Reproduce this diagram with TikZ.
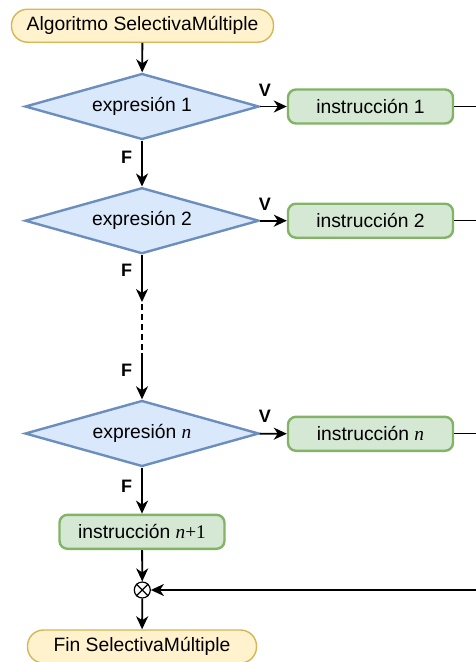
\documentclass[tikz,border=0pt]{standalone}
\usepackage{fontspec}
\setmainfont{Liberation Sans}
\newfontfamily\tms{Liberation Serif}
\usetikzlibrary{shapes.geometric,arrows.meta}
\definecolor{termfill}{HTML}{FFF2CC}
\definecolor{termdraw}{HTML}{D6B656}
\definecolor{decfill}{HTML}{DAE8FC}
\definecolor{decdraw}{HTML}{6C8EBF}
\definecolor{procfill}{HTML}{D5E8D4}
\definecolor{procdraw}{HTML}{82B366}
\begin{document}
\begin{tikzpicture}[x=1pt,y=-1pt,
  font=\fontsize{19.3}{23}\selectfont,
  term/.style={draw=termdraw, fill=termfill, line width=1.4pt, rounded corners=16pt, minimum height=33pt, inner sep=0pt},
  decision/.style={diamond, aspect=3.545, draw=decdraw, fill=decfill, line width=2.4pt, minimum width=234pt, minimum height=66pt, inner sep=0pt},
  proc/.style={draw=procdraw, fill=procfill, line width=2.4pt, rounded corners=8pt, minimum width=165pt, minimum height=34pt, inner sep=0pt},
  flow/.style={line width=1.8pt, -{Stealth[length=13pt,width=12pt,inset=4pt]}},
  stub/.style={line width=1.1pt},
  lbl/.style={font=\bfseries\fontsize{18}{20}\selectfont, inner sep=0pt}]
\fill[white] (0,0) rectangle (476,662);
\useasboundingbox (0,0) rectangle (476,662);

\node[term, minimum width=262pt] (start) at (142.5,25.7) {Algoritmo SelectivaMúltiple};

\node[decision] (d1) at (142,106.5) {expresión 1};
\node[proc] (i1) at (370.5,106.5) {instrucción 1};
\node[decision] (d2) at (142,220.7) {expresión 2};
\node[proc] (i2) at (370.5,220.7) {instrucción 2};
\node[decision] (dn) at (142,433.5) {expresión {\tms\itshape n}};
\node[proc] (in) at (370.5,433.8) {instrucción {\tms\itshape n}};
\node[proc] (in1) at (142,531.8) {instrucción {\tms\itshape n}{\tms +1}};
\node[circle, draw, line width=1.2pt, fill=white, minimum size=16pt, inner sep=0pt] (j) at (142.3,590) {};
\draw[line width=1.2pt] (j.north east) -- (j.south west) (j.north west) -- (j.south east);
\node[term, minimum width=229pt] (fin) at (142,646.5) {Fin SelectivaMúltiple};

\coordinate (r1) at (476,106.5);
\coordinate (r2) at (476,220.7);
\coordinate (rn) at (476,433.8);
\coordinate (rb) at (476,590);
\coordinate (c1) at (142,302);
\coordinate (c1b) at (142,304);
\coordinate (c2) at (142,353);

\draw[flow] (start) -- (d1);
\draw[flow] (d1) -- (i1);
\draw[flow] (d1) -- (d2);
\draw[flow] (d2) -- (i2);
\draw[flow] (d2.south) -- (c1);
\draw[line width=1.2pt, dash pattern=on 6pt off 4pt] (c1b) -- (c2);
\draw[flow] (c2) -- (dn.north);
\draw[flow] (dn) -- (in);
\draw[flow] (dn) -- (in1);
\draw[flow] (in1) -- (j);
\draw[flow] (j) -- (fin);
\draw[flow] (rb) -- (j);
\draw[stub] (i1) -- (r1);
\draw[stub] (i2) -- (r2);
\draw[stub] (in) -- (rn);

\node[lbl] at (265,90.5) {V};
\node[lbl] at (265,204) {V};
\node[lbl] at (265,416.7) {V};
\node[lbl] at (126.5,157.5) {F};
\node[lbl] at (126.5,270.5) {F};
\node[lbl] at (126.5,370) {F};
\node[lbl] at (126.5,486.5) {F};
\end{tikzpicture}
\end{document}
